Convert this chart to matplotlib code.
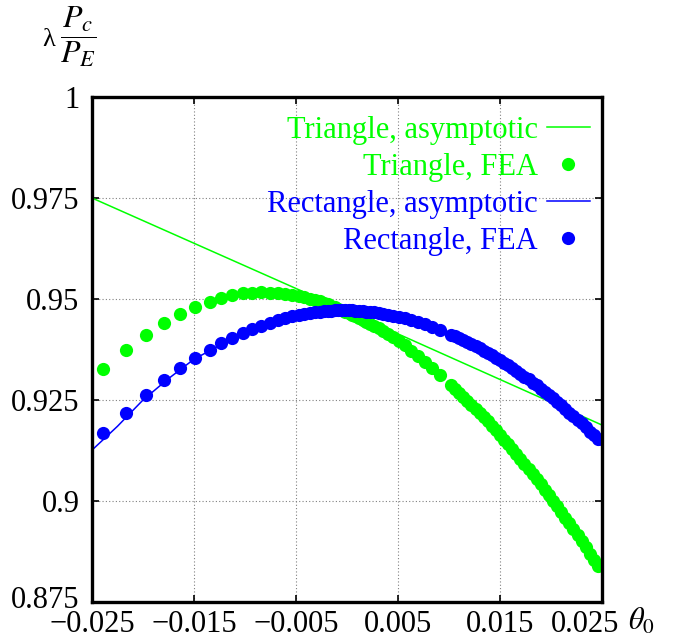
import matplotlib
matplotlib.use("Agg")
import matplotlib.pyplot as plt
import matplotlib.transforms as mtransforms

plt.rcParams["font.family"] = "serif"
plt.rcParams["font.serif"] = ["Liberation Serif", "DejaVu Serif"]
plt.rcParams["mathtext.fontset"] = "stix"

# ── data ────────────────────────────────────────────────────────────
# FEA sample positions (theta_0)
theta_fea = [
    -0.02392, -0.02170, -0.01974, -0.01794, -0.01634, -0.01490, -0.01346, -0.01232,
    -0.01125, -0.01020, -0.00928, -0.00840, -0.00758, -0.00681, -0.00608, -0.00539,
    -0.00475, -0.00417, -0.00363, -0.00314, -0.00269, -0.00230, -0.00191, -0.00157,
    -0.00122, -0.00088, -0.00054, -0.00020, 0.00015, 0.00049, 0.00083, 0.00118,
    0.00152, 0.00186, 0.00225, 0.00265, 0.00309, 0.00353, 0.00402, 0.00451,
    0.00510, 0.00569, 0.00632, 0.00696, 0.00760, 0.00830, 0.00912,
    0.0102, 0.0106, 0.0110, 0.0114, 0.0118, 0.0122, 0.0126, 0.0130, 0.0134,
    0.0138, 0.0142, 0.0146, 0.0150, 0.0154, 0.0158, 0.0162, 0.0166, 0.0170,
    0.0174, 0.0178, 0.0182, 0.0186, 0.0190, 0.0194, 0.0198, 0.0202, 0.0206,
    0.0210, 0.0214, 0.0218, 0.0222, 0.0226, 0.0230, 0.0234, 0.0238, 0.0242,
    0.0246,
]
tri_fea = [
    0.9327, 0.9374, 0.9410, 0.9441, 0.9463, 0.9480, 0.9493, 0.9503,
    0.9510, 0.9514, 0.9516, 0.9517, 0.9516, 0.9515, 0.9513, 0.9510,
    0.9507, 0.9504, 0.9501, 0.9497, 0.9494, 0.9490, 0.9487, 0.9483,
    0.9480, 0.9476, 0.9473, 0.9469, 0.9465, 0.9461, 0.9457, 0.9452,
    0.9448, 0.9444, 0.9439, 0.9433, 0.9427, 0.9421, 0.9413, 0.9406,
    0.9396, 0.9385, 0.9371, 0.9359, 0.9345, 0.9329, 0.9311,
    0.9286, 0.9277, 0.9268, 0.9258, 0.9248, 0.9238, 0.9228, 0.9218, 0.9207,
    0.9197, 0.9186, 0.9175, 0.9163, 0.9152, 0.9140, 0.9129, 0.9117, 0.9104,
    0.9092, 0.9080, 0.9067, 0.9054, 0.9041, 0.9028, 0.9014, 0.9001, 0.8987,
    0.8973, 0.8959, 0.8945, 0.8930, 0.8915, 0.8901, 0.8886, 0.8870, 0.8855,
    0.8839,
]
rect_fea = [
    0.9168, 0.9219, 0.9262, 0.9299, 0.9328, 0.9353, 0.9375, 0.9390,
    0.9404, 0.9416, 0.9426, 0.9434, 0.9441, 0.9447, 0.9453, 0.9457,
    0.9460, 0.9463, 0.9465, 0.9467, 0.9469, 0.9470, 0.9471, 0.9471,
    0.9472, 0.9472, 0.9473, 0.9473, 0.9472, 0.9472, 0.9471, 0.9471,
    0.9470, 0.9469, 0.9468, 0.9467, 0.9465, 0.9463, 0.9461, 0.9458,
    0.9455, 0.9452, 0.9447, 0.9442, 0.9437, 0.9431, 0.9424,
    0.9412, 0.9408, 0.9403, 0.9398, 0.9394, 0.9388, 0.9383, 0.9378, 0.9372,
    0.9367, 0.9361, 0.9355, 0.9348, 0.9342, 0.9336, 0.9329, 0.9322, 0.9315,
    0.9308, 0.9301, 0.9293, 0.9286, 0.9278, 0.9270, 0.9262, 0.9254, 0.9245,
    0.9237, 0.9228, 0.9219, 0.9210, 0.9201, 0.9192, 0.9182, 0.9172, 0.9163,
    0.9153,
]

# asymptotic curves
theta_asym_tri = [-0.025, -0.0125, 0.0, 0.0125, 0.025]
tri_asym = [0.9750, 0.9610, 0.9470, 0.9329, 0.9188]

theta_asym_rect = [-0.025, -0.0225, -0.020, -0.0175, -0.015, -0.0125, -0.010, -0.0075,
                   -0.005, -0.0025, 0.0, 0.0025, 0.005, 0.0075, 0.010, 0.0125,
                   0.015, 0.0175, 0.020, 0.0225, 0.025]
rect_asym = [0.9126, 0.9185, 0.9250, 0.9303, 0.9351, 0.9385, 0.9418, 0.9442,
             0.9459, 0.9469, 0.9472, 0.9467, 0.9456, 0.9439, 0.9414, 0.9384,
             0.9349, 0.9306, 0.9256, 0.9198, 0.9136]

xticks = [-0.025, -0.015, -0.005, 0.005, 0.015, 0.025]
xtick_labels = ["\u22120.025", "\u22120.015", "\u22120.005", "0.005", "0.015", "0.025"]
yticks = [0.875, 0.9, 0.925, 0.95, 0.975, 1.0]
ytick_labels = ["0.875", "0.9", "0.925", "0.95", "0.975", "1"]

GREEN = "#00ff00"
BLUE = "#0000ff"
FS = 22

# ── figure ──────────────────────────────────────────────────────────
fig = plt.figure(figsize=(6.81, 6.40), dpi=100)
ax = fig.add_axes([92 / 681, 38 / 640, 510 / 681, 505 / 640])

ax.plot(theta_asym_tri, tri_asym, color=GREEN, lw=1.1, label="Triangle, asymptotic")
ax.plot(theta_fea, tri_fea, "o", color=GREEN, ms=9.5, mec="none", label="Triangle, FEA")
ax.plot(theta_asym_rect, rect_asym, color=BLUE, lw=1.1, label="Rectangle, asymptotic")
ax.plot(theta_fea, rect_fea, "o", color=BLUE, ms=9.5, mec="none", label="Rectangle, FEA")

ax.set_xlim(-0.025, 0.025)
ax.set_ylim(0.875, 1.0)
ax.set_xticks(xticks)
ax.set_xticklabels(xtick_labels)
ax.set_yticks(yticks)
ax.set_yticklabels(ytick_labels)
ax.tick_params(direction="in", length=5, width=1.2, top=True, right=True, labelsize=FS)
ax.tick_params(axis="x", pad=6)
ax.tick_params(axis="y", pad=9)
ax.grid(True, color="#808080", linestyle=(0, (1, 2)), linewidth=0.8)
for spine in ax.spines.values():
    spine.set_linewidth(2.4)

# last x label sits a little left of its tick, as in the reference
last = ax.get_xticklabels()[-1]
last.set_transform(last.get_transform() +
                   mtransforms.ScaledTranslation(-0.17, 0, fig.dpi_scale_trans))
# lowest y label sits slightly above its tick
first = ax.get_yticklabels()[0]
first.set_transform(first.get_transform() +
                    mtransforms.ScaledTranslation(0, 0.05, fig.dpi_scale_trans))

leg = ax.legend(loc="upper right", bbox_to_anchor=(0.976, 0.962), frameon=False,
                markerfirst=False, fontsize=FS, handlelength=1.4, handletextpad=0.3,
                labelspacing=0.26, numpoints=1, borderaxespad=0, borderpad=0,
                labelcolor="linecolor")

fig.text(42 / 681, 1 - 40 / 640, "\u03bb", fontsize=19, va="center", ha="left")
fig.text(78 / 681, 1 - 37 / 640, r"$\dfrac{P_c}{P_E}$", fontsize=23, va="center", ha="center")
ax.text(1.051, -0.04, r"$\theta_0$", transform=ax.transAxes, fontsize=FS,
        ha="left", va="center")

fig.savefig("out.png", dpi=100)
